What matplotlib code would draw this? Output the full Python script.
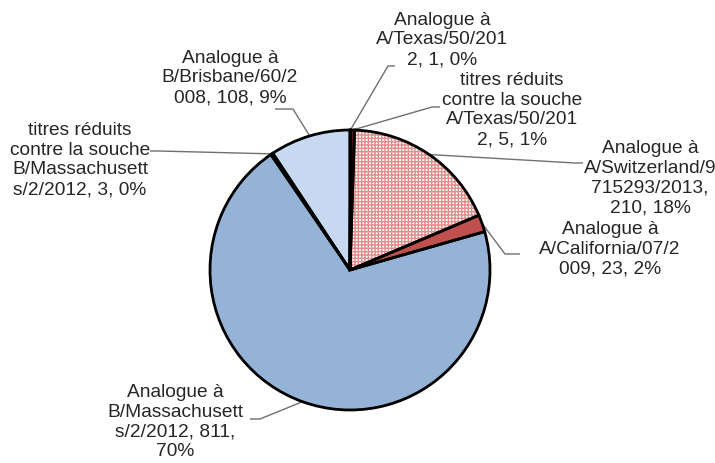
import numpy as np
import matplotlib.pyplot as plt

plt.rcParams['font.family'] = ['Liberation Sans', 'DejaVu Sans']
plt.rcParams['hatch.linewidth'] = 1.0

# data
labels = [
    "Analogue à\nA/Texas/50/201\n2, 1, 0%",
    "titres réduits\ncontre la souche\nA/Texas/50/201\n2, 5, 1%",
    "Analogue à\nA/Switzerland/9\n715293/2013,\n210, 18%",
    "Analogue à\nA/California/07/2\n009, 23, 2%",
    "Analogue à\nB/Massachusett\ns/2/2012, 811,\n70%",
    "titres réduits\ncontre la souche\nB/Massachusett\ns/2/2012, 3, 0%",
    "Analogue à\nB/Brisbane/60/2\n008, 108, 9%",
]
counts = [1, 5, 210, 23, 811, 3, 108]
colors = ['#632523', '#7f2a28', '#ffffff', '#c0504d', '#95b3d7', '#17375e', '#c6d9f1']

# label layout in pixel coords (y from top): text centre, elbow, end of leader
text_pos = [(442, 40), (512, 110), (650, 178), (610, 249), (175, 422), (80, 160), (230, 78)]
elbows = [(388, 66), (432, 107), (575, 163), (505, 254), (260, 419), (158, 151), (293, 109)]
ends = [(395, 66), (440, 107), (583, 163), (520, 254), (250, 419), (150, 151), (275, 109)]

W, H = 715, 463
fig = plt.figure(figsize=(W / 100, H / 100), dpi=100)
ax = fig.add_axes([0, 0, 1, 1])

center = (350, H - 270)
radius = 140

# fills (hatched slice gets pink hatch)
wedges, _ = ax.pie(counts, colors=colors, startangle=90, counterclock=False,
                   center=center, radius=radius, frame=True,
                   wedgeprops=dict(linewidth=0))
wedges[2].set_edgecolor('#e08e8c')
wedges[2].set_hatch('+++++')

# black outlines
ax.pie(counts, colors=['none'] * len(counts), startangle=90, counterclock=False,
       center=center, radius=radius, frame=True,
       wedgeprops=dict(linewidth=2, edgecolor='black', fill=False))
ax.set_xlim(0, W)
ax.set_ylim(0, H)
ax.set_aspect('equal')
ax.axis('off')

for w, lab, tp, el, en in zip(wedges, labels, text_pos, elbows, ends):
    mid = np.deg2rad((w.theta1 + w.theta2) / 2)
    px = center[0] + radius * np.cos(mid)
    py = center[1] + radius * np.sin(mid)
    ax.plot([px, el[0], en[0]], [py, H - el[1], H - en[1]],
            color='#6f6f6f', lw=1, solid_capstyle='butt', zorder=0.5)
    ax.text(tp[0], H - tp[1], lab, ha='center', va='center', fontsize=13.8,
            color='#262626', linespacing=1.22)

fig.savefig('out.png', dpi=100)
